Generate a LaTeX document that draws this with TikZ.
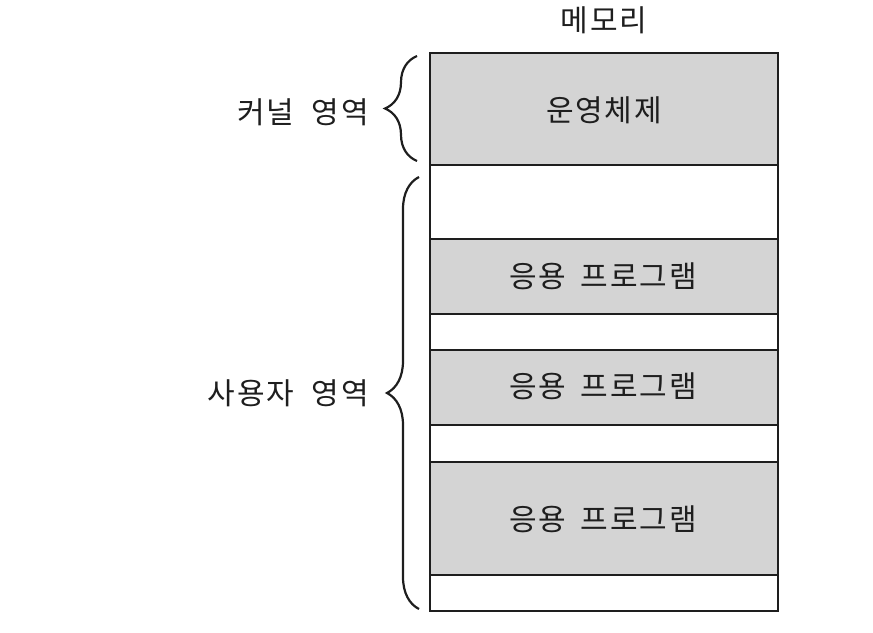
\documentclass[tikz,border=0pt]{standalone}
\usepackage{fontspec}
\setmainfont[LetterSpace=6]{Noto Sans CJK KR}
\usetikzlibrary{decorations.pathreplacing}
\definecolor{fillgray}{HTML}{D4D4D4}
\definecolor{ink}{HTML}{1E1E1E}
\tikzset{
  seg/.style={draw=ink, line width=1.8pt},
  used/.style={seg, fill=fillgray},
  free/.style={seg, fill=white},
  lbl/.style={font=\fontsize{30}{34}\selectfont, text=ink, inner sep=0pt},
  brc/.style={draw=ink, line width=2.2pt, decorate, decoration={brace, amplitude=32pt}}
}
\begin{document}
\begin{tikzpicture}[x=1pt,y=-1pt]
\useasboundingbox (0,0) rectangle (873,632);
% memory blocks
\path[used] (430,53) rectangle (778,165);
\path[free] (430,165) rectangle (778,239);
\path[used] (430,239) rectangle (778,314);
\path[free] (430,314) rectangle (778,350);
\path[used] (430,350) rectangle (778,425);
\path[free] (430,425) rectangle (778,462);
\path[used] (430,462) rectangle (778,575);
\path[free] (430,575) rectangle (778,611);
\draw[seg] (430,53) rectangle (778,611);
% labels in blocks
\node[lbl] (os) at (604,110) {운영체제};
\node[lbl] (app1) at (603,276) {응용\hspace{0.2em} 프로그램};
\node[lbl] (app2) at (603,386) {응용\hspace{0.2em} 프로그램};
\node[lbl] (app3) at (603,519) {응용\hspace{0.2em} 프로그램};
\node[lbl] (mem) at (604,20) {메모리};
% braces
\coordinate (kb) at (417,161);
\coordinate (kt) at (417,56);
\coordinate (ub) at (419,609);
\coordinate (ut) at (419,177);
\draw[brc] (kb) -- (kt);
\draw[brc] (ub) -- (ut);
\node[lbl, anchor=east] (kernel) at (369,112) {커널\hspace{0.3em} 영역};
\node[lbl, anchor=east] (user) at (369,393) {사용자\hspace{0.3em} 영역};
\end{tikzpicture}
\end{document}
